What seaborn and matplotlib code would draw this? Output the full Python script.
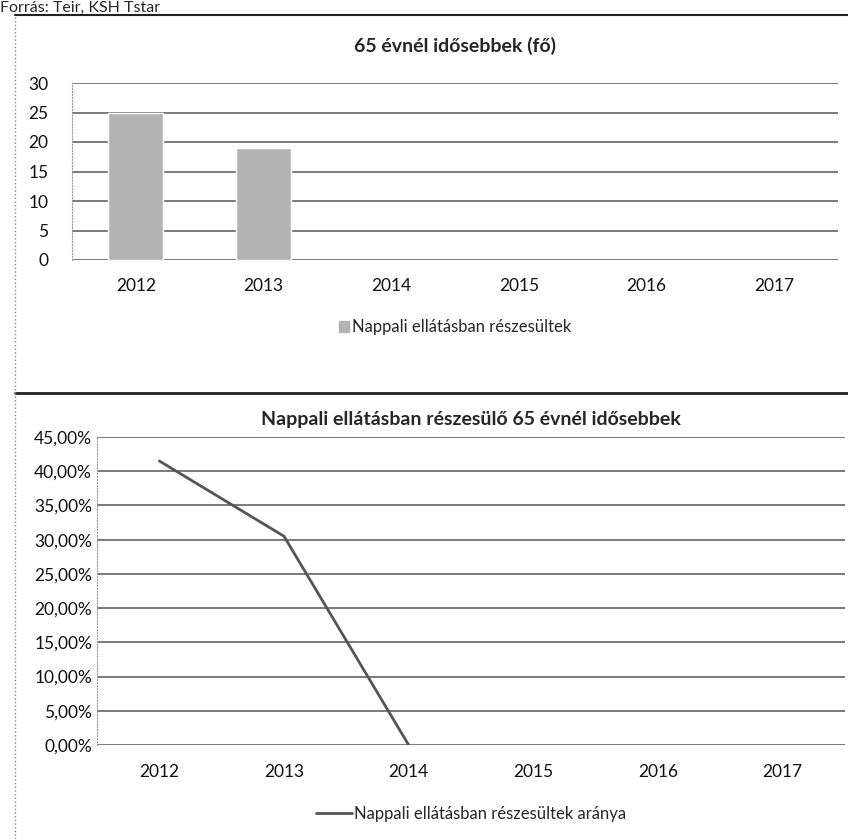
import matplotlib
matplotlib.use("Agg")
import matplotlib.pyplot as plt
import seaborn as sns
import numpy as np
import pandas as pd
from matplotlib.lines import Line2D
from matplotlib.ticker import FuncFormatter

#------Data------

years = ["2012", "2013", "2014", "2015", "2016", "2017"]
ellatottak = [25, 19, np.nan, np.nan, np.nan, np.nan]
arany = [41.5, 30.5, 0.0, np.nan, np.nan, np.nan]

top_title = "65 évnél idősebbek (fő)"
bottom_title = "Nappali ellátásban részesülő 65 évnél idősebbek"
bar_label = "Nappali ellátásban részesültek"
line_label = "Nappali ellátásban részesültek aránya"
source = "Forrás: Teir, KSH Tstar"

#------Style------

sns.set_style("white")
plt.rcParams["font.family"] = ["Lato", "DejaVu Sans"]

W, H = 848, 839
fig = plt.figure(figsize=(W / 100, H / 100), dpi=100)


def box(l, t, r, b):
    # pixel box -> figure fraction rect
    return [l / W, 1 - b / H, (r - l) / W, (b - t) / H]


#------Top chart------

df_bar = pd.DataFrame({"ev": years, "fo": ellatottak})
ax1 = fig.add_axes(box(72, 83, 838, 260))
sns.barplot(data=df_bar, x="ev", y="fo", color="#b3b3b3", width=0.43,
            saturation=1, ax=ax1, zorder=3)
ax1.set_ylim(0, 30)
ax1.set_yticks(range(0, 31, 5))
ax1.set_xlim(-0.5, 5.5)
ax1.set_xlabel("")
ax1.set_ylabel("")
ax1.grid(axis="y", color="#707070", linewidth=1.3, zorder=0)
for s in ax1.spines.values():
    s.set_visible(False)
ax1.spines["left"].set_visible(True)
ax1.spines["left"].set_color("#999999")
ax1.spines["left"].set_linestyle(":")
ax1.tick_params(axis="both", length=0, labelsize=12.5, colors="#111111")
ax1.tick_params(axis="y", pad=17)
ax1.tick_params(axis="x", pad=13)
ax1.set_title(top_title, fontsize=14, fontweight="bold", pad=22)
ax1.legend(handles=[plt.Rectangle((0, 0), 1, 1, color="#b3b3b3")],
           labels=[bar_label], loc="upper center", bbox_to_anchor=(0.5, -0.25),
           frameon=False, fontsize=12, handlelength=0.6, handleheight=0.6,
           handletextpad=0.2)

#------Bottom chart------

df_line = pd.DataFrame({"x": range(len(years)), "arany": arany})
ax2 = fig.add_axes(box(97, 437, 845, 745))
sns.lineplot(data=df_line, x="x", y="arany", color="#555555", linewidth=2,
             ax=ax2, zorder=3)
ax2.set_ylim(0, 45)
ax2.set_yticks(np.arange(0, 46, 5))
ax2.yaxis.set_major_formatter(FuncFormatter(lambda v, p: f"{v:.2f}%".replace(".", ",")))
ax2.set_xlim(-0.5, 5.5)
ax2.set_xticks(range(len(years)))
ax2.set_xticklabels(years)
ax2.set_xlabel("")
ax2.set_ylabel("")
ax2.grid(axis="y", color="#707070", linewidth=1.3, zorder=0)
for s in ax2.spines.values():
    s.set_visible(False)
ax2.spines["left"].set_visible(True)
ax2.spines["left"].set_color("#999999")
ax2.spines["left"].set_linestyle(":")
ax2.tick_params(axis="both", length=0, labelsize=12.5, colors="#111111")
ax2.tick_params(axis="x", pad=14)
ax2.set_title(bottom_title, fontsize=14, fontweight="bold", pad=9)
ax2.legend(handles=[Line2D([0], [0], color="#555555", linewidth=2)],
           labels=[line_label], loc="upper center", bbox_to_anchor=(0.5, -0.15),
           frameon=False, fontsize=12, handlelength=2.2, handletextpad=0.1)

#------Frame lines------

fig.add_artist(Line2D([15 / W, 1], [1 - 15 / H] * 2, color="#222222", linewidth=1.5))
fig.add_artist(Line2D([15 / W, 1], [1 - 393 / H] * 2, color="#222222", linewidth=2))
fig.add_artist(Line2D([15 / W] * 2, [0, 1 - 15 / H], color="#888888", linewidth=1, linestyle=":"))
fig.text(0.0, 1 - 12 / H, source, fontsize=11.5, va="baseline", ha="left")

fig.savefig("out.png", dpi=100, facecolor="white")
